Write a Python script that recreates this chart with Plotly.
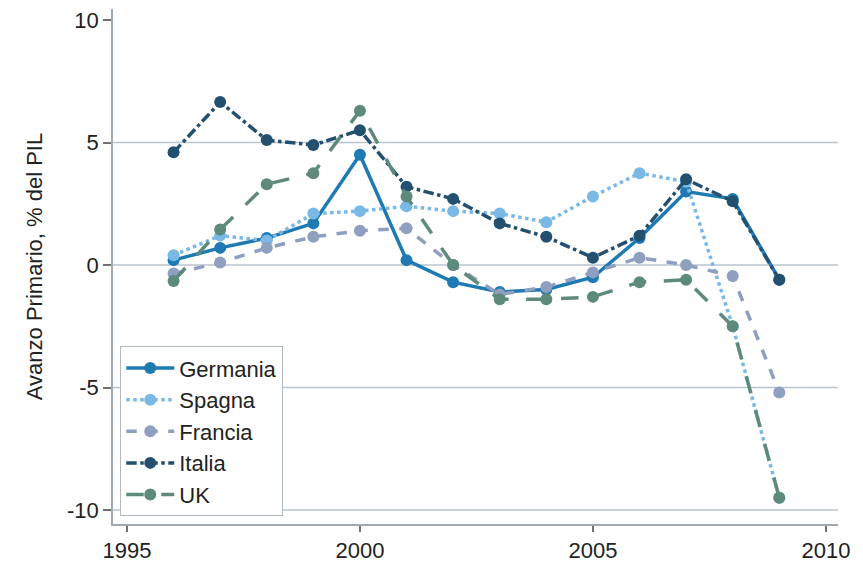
import plotly.graph_objects as go

years = list(range(1996, 2010))
germania = [0.2, 0.7, 1.1, 1.7, 4.5, 0.2, -0.7, -1.1, -1.0, -0.5, 1.1, 3.0, 2.7, -0.6]
spagna = [0.4, 1.2, 1.0, 2.1, 2.2, 2.4, 2.2, 2.1, 1.75, 2.8, 3.75, 3.4, -2.5, -9.5]
francia = [-0.35, 0.1, 0.7, 1.15, 1.4, 1.5, 0.0, -1.2, -0.9, -0.3, 0.3, 0.0, -0.45, -5.2]
italia = [4.6, 6.65, 5.1, 4.9, 5.5, 3.2, 2.7, 1.7, 1.15, 0.3, 1.2, 3.5, 2.6, -0.6]
uk = [-0.65, 1.45, 3.3, 3.75, 6.3, 2.8, 0.0, -1.4, -1.4, -1.3, -0.7, -0.6, -2.5, -9.5]

series = [
    ("Germania", germania, "#1d7ab3", "solid"),
    ("Spagna", spagna, "#7ab8e6", "dot"),
    ("Francia", francia, "#8e9fbf", "dash"),
    ("Italia", italia, "#22506e", "dashdot"),
    ("UK", uk, "#5d8a7b", "longdash"),
]

x_ticks = [1995, 2000, 2005, 2010]
y_ticks = [-10, -5, 0, 5, 10]
y_tick_labels = ["-10", "-5", "0", "5", "10"]
grid_vals = [-10, -5, 0, 5]

fig = go.Figure()
for name, vals, color, dash in series:
    fig.add_trace(go.Scatter(
        x=years, y=vals, name=name, mode="lines+markers",
        line=dict(color=color, width=3.5, dash=dash),
        marker=dict(color=color, size=12),
    ))

for g in grid_vals:
    fig.add_shape(type="line", xref="paper", yref="y", x0=0, x1=1, y0=g, y1=g,
                  line=dict(color="#b9c5cd", width=1.5), layer="below")

fig.update_layout(
    width=863, height=563,
    margin=dict(l=113, r=25, t=9, b=39),
    paper_bgcolor="white", plot_bgcolor="white",
    font=dict(family="Liberation Sans, Arial, sans-serif", size=22, color="#222222"),
    showlegend=True,
    legend=dict(
        x=0.01, y=0.015, xanchor="left", yanchor="bottom",
        bgcolor="white", bordercolor="#b0b8c0", borderwidth=1,
        font=dict(size=22, color="#222222"),
        itemwidth=48, tracegroupgap=0,
    ),
    xaxis=dict(
        range=[1994.7, 2010.26], tickvals=x_ticks, showgrid=False, zeroline=False,
        showline=True, linecolor="#a0a8b0", linewidth=1.5,
        ticks="outside", ticklen=6, tickcolor="#707070", tickwidth=1.5,
        tickfont=dict(size=22), automargin=False,
    ),
    yaxis=dict(
        range=[-10.57, 10.45], tickvals=y_ticks, ticktext=y_tick_labels,
        showgrid=False, zeroline=False,
        showline=True, linecolor="#a0a8b0", linewidth=1.5,
        ticks="outside", ticklen=8, tickcolor="#707070", tickwidth=1.5,
        tickfont=dict(size=22), automargin=False,
        title=dict(text="Avanzo Primario, % del PIL", font=dict(size=22), standoff=18),
    ),
)

fig.write_html("out.html", config={"displayModeBar": False},
               post_script="document.body.style.margin='0';")
